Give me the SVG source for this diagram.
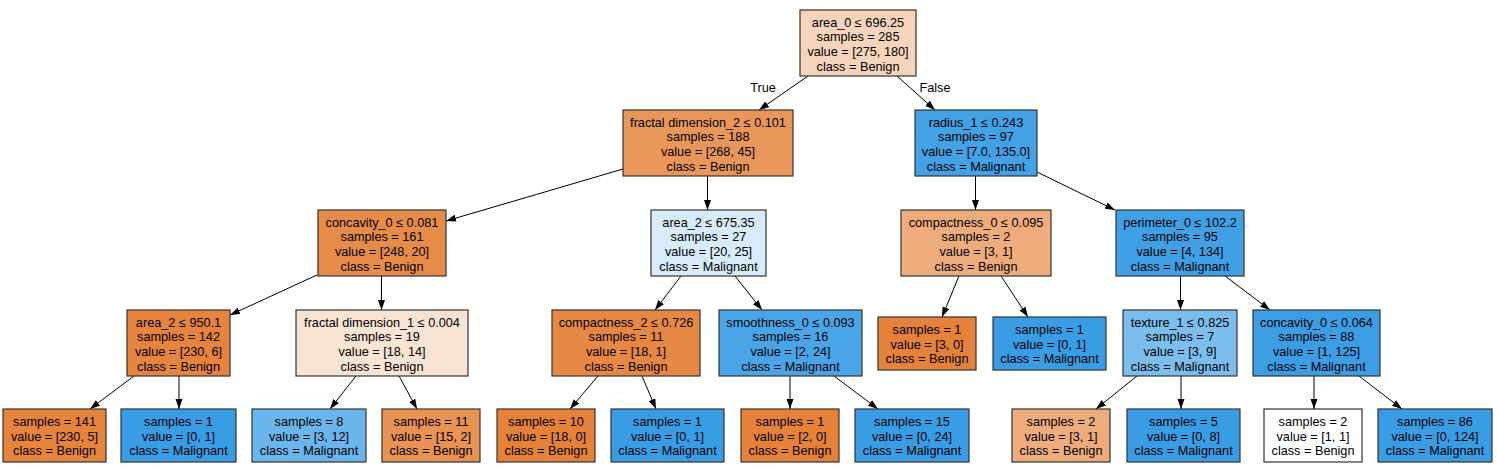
<svg xmlns="http://www.w3.org/2000/svg" width="1497" height="468" viewBox="0 0 1497 468">
<style>
  .box { stroke: #333; stroke-width: 1.2; }
  text { font-family: "Liberation Sans", Arial, sans-serif; font-size: 12.7px; fill: #000; text-anchor: middle; }
  .edge { stroke: #000; stroke-width: 1; fill: none; marker-end: url(#arrow); }
</style>
<defs>
  <marker id="arrow" markerUnits="userSpaceOnUse" markerWidth="10" markerHeight="8" refX="10" refY="3.5" orient="auto">
    <path d="M0,0 L10,3.5 L0,7 z" fill="#000"/>
  </marker>
</defs>
<rect x="0" y="0" width="1497" height="468" fill="#fff"/>

<g id="connectors">
  <line class="edge" x1="808" y1="76" x2="759" y2="110"/>
  <line class="edge" x1="897" y1="76" x2="935" y2="110"/>
  <line class="edge" x1="623" y1="169" x2="446" y2="221"/>
  <line class="edge" x1="707.5" y1="176" x2="707.5" y2="210"/>
  <line class="edge" x1="975.5" y1="176" x2="975.5" y2="210"/>
  <line class="edge" x1="1037" y1="172" x2="1115" y2="210"/>
  <line class="edge" x1="317" y1="275" x2="230" y2="315"/>
  <line class="edge" x1="381.5" y1="276" x2="381.5" y2="310"/>
  <line class="edge" x1="681" y1="276" x2="655" y2="310"/>
  <line class="edge" x1="735" y1="276" x2="762" y2="310"/>
  <line class="edge" x1="959" y1="276" x2="942" y2="317"/>
  <line class="edge" x1="1001" y1="276" x2="1028" y2="317"/>
  <line class="edge" x1="1180.5" y1="276" x2="1180.5" y2="310"/>
  <line class="edge" x1="1225" y1="276" x2="1270" y2="310"/>
  <line class="edge" x1="134" y1="376" x2="90" y2="409"/>
  <line class="edge" x1="179" y1="376" x2="179" y2="409"/>
  <line class="edge" x1="356" y1="376" x2="330" y2="409"/>
  <line class="edge" x1="399" y1="376" x2="417" y2="409"/>
  <line class="edge" x1="598" y1="376" x2="570" y2="409"/>
  <line class="edge" x1="642" y1="376" x2="656" y2="409"/>
  <line class="edge" x1="790" y1="376" x2="790" y2="409"/>
  <line class="edge" x1="834" y1="376" x2="878" y2="409"/>
  <line class="edge" x1="1137" y1="376" x2="1096" y2="409"/>
  <line class="edge" x1="1181" y1="376" x2="1181" y2="409"/>
  <line class="edge" x1="1314" y1="376" x2="1314" y2="409"/>
  <line class="edge" x1="1359" y1="376" x2="1402" y2="409"/>
  <text x="763" y="92">True</text>
  <text x="935" y="92">False</text>
</g>

<g id="n0"><rect class="box" x="800" y="10" width="116" height="66" fill="#f6d4bb"/>
  <text x="858" y="26.5">area_0 ≤ 696.25</text><text x="858" y="41.2">samples = 285</text><text x="858" y="55.9">value = [275, 180]</text><text x="858" y="70.6">class = Benign</text></g>
<g id="n1"><rect class="box" x="623" y="110" width="170" height="66" fill="#e9965a"/>
  <text x="708" y="126.5">fractal dimension_2 ≤ 0.101</text><text x="708" y="141.2">samples = 188</text><text x="708" y="155.9">value = [268, 45]</text><text x="708" y="170.6">class = Benign</text></g>
<g id="n2"><rect class="box" x="915" y="110" width="122" height="66" fill="#43a2e6"/>
  <text x="976" y="126.5">radius_1 ≤ 0.243</text><text x="976" y="141.2">samples = 97</text><text x="976" y="155.9">value = [7.0, 135.0]</text><text x="976" y="170.6">class = Malignant</text></g>
<g id="n3"><rect class="box" x="318" y="210" width="128" height="66" fill="#e78b49"/>
  <text x="382" y="226.5">concavity_0 ≤ 0.081</text><text x="382" y="241.2">samples = 161</text><text x="382" y="255.9">value = [248, 20]</text><text x="382" y="270.6">class = Benign</text></g>
<g id="n4"><rect class="box" x="651" y="210" width="115" height="66" fill="#d7ebfa"/>
  <text x="708.5" y="226.5">area_2 ≤ 675.35</text><text x="708.5" y="241.2">samples = 27</text><text x="708.5" y="255.9">value = [20, 25]</text><text x="708.5" y="270.6">class = Malignant</text></g>
<g id="n5"><rect class="box" x="901" y="210" width="150" height="66" fill="#eeab7b"/>
  <text x="976" y="226.5">compactness_0 ≤ 0.095</text><text x="976" y="241.2">samples = 2</text><text x="976" y="255.9">value = [3, 1]</text><text x="976" y="270.6">class = Benign</text></g>
<g id="n6"><rect class="box" x="1116" y="210" width="128" height="66" fill="#3fa0e6"/>
  <text x="1180" y="226.5">perimeter_0 ≤ 102.2</text><text x="1180" y="241.2">samples = 95</text><text x="1180" y="255.9">value = [4, 134]</text><text x="1180" y="270.6">class = Malignant</text></g>
<g id="n7"><rect class="box" x="127" y="310" width="103" height="66" fill="#e6843e"/>
  <text x="178.5" y="326.5">area_2 ≤ 950.1</text><text x="178.5" y="341.2">samples = 142</text><text x="178.5" y="355.9">value = [230, 6]</text><text x="178.5" y="370.6">class = Benign</text></g>
<g id="n8"><rect class="box" x="296" y="310" width="172" height="66" fill="#f9e3d3"/>
  <text x="382" y="326.5">fractal dimension_1 ≤ 0.004</text><text x="382" y="341.2">samples = 19</text><text x="382" y="355.9">value = [18, 14]</text><text x="382" y="370.6">class = Benign</text></g>
<g id="n9"><rect class="box" x="552" y="310" width="148" height="66" fill="#e68844"/>
  <text x="626" y="326.5">compactness_2 ≤ 0.726</text><text x="626" y="341.2">samples = 11</text><text x="626" y="355.9">value = [18, 1]</text><text x="626" y="370.6">class = Benign</text></g>
<g id="n10"><rect class="box" x="719" y="310" width="143" height="66" fill="#49a5e7"/>
  <text x="790.5" y="326.5">smoothness_0 ≤ 0.093</text><text x="790.5" y="341.2">samples = 16</text><text x="790.5" y="355.9">value = [2, 24]</text><text x="790.5" y="370.6">class = Malignant</text></g>
<g id="n11"><rect class="box" x="878" y="317" width="98" height="53" fill="#e58139"/>
  <text x="927" y="334">samples = 1</text><text x="927" y="348.5">value = [3, 0]</text><text x="927" y="363">class = Benign</text></g>
<g id="n12"><rect class="box" x="993" y="317" width="113" height="53" fill="#399de5"/>
  <text x="1049.5" y="334">samples = 1</text><text x="1049.5" y="348.5">value = [0, 1]</text><text x="1049.5" y="363">class = Malignant</text></g>
<g id="n13"><rect class="box" x="1123" y="310" width="114" height="66" fill="#7bbeee"/>
  <text x="1180" y="326.5">texture_1 ≤ 0.825</text><text x="1180" y="341.2">samples = 7</text><text x="1180" y="355.9">value = [3, 9]</text><text x="1180" y="370.6">class = Malignant</text></g>
<g id="n14"><rect class="box" x="1253" y="310" width="127" height="66" fill="#3b9ee5"/>
  <text x="1316.5" y="326.5">concavity_0 ≤ 0.064</text><text x="1316.5" y="341.2">samples = 88</text><text x="1316.5" y="355.9">value = [1, 125]</text><text x="1316.5" y="370.6">class = Malignant</text></g>

<g id="n15"><rect class="box" x="3" y="409" width="103" height="53" fill="#e6843d"/>
  <text x="54.5" y="426">samples = 141</text><text x="54.5" y="440.5">value = [230, 5]</text><text x="54.5" y="455">class = Benign</text></g>
<g id="n16"><rect class="box" x="121" y="409" width="115" height="53" fill="#399de5"/>
  <text x="178.5" y="426">samples = 1</text><text x="178.5" y="440.5">value = [0, 1]</text><text x="178.5" y="455">class = Malignant</text></g>
<g id="n17"><rect class="box" x="252" y="409" width="114" height="53" fill="#6ab6ec"/>
  <text x="309" y="426">samples = 8</text><text x="309" y="440.5">value = [3, 12]</text><text x="309" y="455">class = Malignant</text></g>
<g id="n18"><rect class="box" x="382" y="409" width="98" height="53" fill="#e89253"/>
  <text x="431" y="426">samples = 11</text><text x="431" y="440.5">value = [15, 2]</text><text x="431" y="455">class = Benign</text></g>
<g id="n19"><rect class="box" x="497" y="409" width="98" height="53" fill="#e58139"/>
  <text x="546" y="426">samples = 10</text><text x="546" y="440.5">value = [18, 0]</text><text x="546" y="455">class = Benign</text></g>
<g id="n20"><rect class="box" x="611" y="409" width="113" height="53" fill="#399de5"/>
  <text x="667.5" y="426">samples = 1</text><text x="667.5" y="440.5">value = [0, 1]</text><text x="667.5" y="455">class = Malignant</text></g>
<g id="n21"><rect class="box" x="741" y="409" width="98" height="53" fill="#e58139"/>
  <text x="790" y="426">samples = 1</text><text x="790" y="440.5">value = [2, 0]</text><text x="790" y="455">class = Benign</text></g>
<g id="n22"><rect class="box" x="855" y="409" width="114" height="53" fill="#399de5"/>
  <text x="912" y="426">samples = 15</text><text x="912" y="440.5">value = [0, 24]</text><text x="912" y="455">class = Malignant</text></g>
<g id="n23"><rect class="box" x="1012" y="409" width="98" height="53" fill="#eeab7b"/>
  <text x="1061" y="426">samples = 2</text><text x="1061" y="440.5">value = [3, 1]</text><text x="1061" y="455">class = Benign</text></g>
<g id="n24"><rect class="box" x="1127" y="409" width="113" height="53" fill="#399de5"/>
  <text x="1183.5" y="426">samples = 5</text><text x="1183.5" y="440.5">value = [0, 8]</text><text x="1183.5" y="455">class = Malignant</text></g>
<g id="n25"><rect class="box" x="1264" y="409" width="98" height="53" fill="#ffffff"/>
  <text x="1313" y="426">samples = 2</text><text x="1313" y="440.5">value = [1, 1]</text><text x="1313" y="455">class = Benign</text></g>
<g id="n26"><rect class="box" x="1378" y="409" width="114" height="53" fill="#399de5"/>
  <text x="1435" y="426">samples = 86</text><text x="1435" y="440.5">value = [0, 124]</text><text x="1435" y="455">class = Malignant</text></g>
</svg>
